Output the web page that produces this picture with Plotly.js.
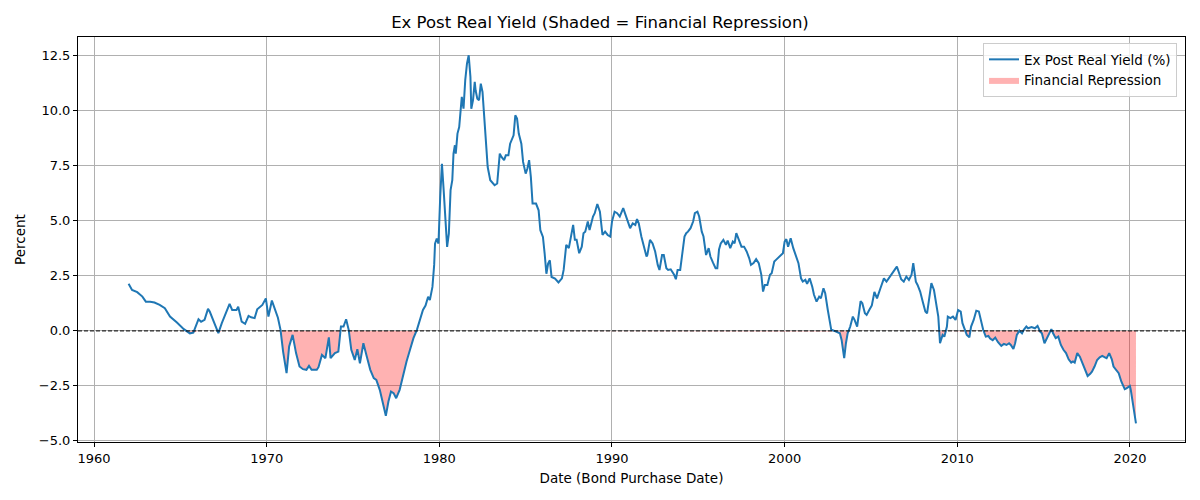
<!DOCTYPE html>
<html>
<head>
<meta charset="utf-8">
<script src="https://cdn.plot.ly/plotly-3.0.1.min.js"></script>
<style>html,body{margin:0;padding:0;background:#fff;}#chart{width:1200px;height:500px;}</style>
</head>
<body>
<div id="chart"></div>
<script>
// Decimal year of bond purchase date
const dates = [
1962.0,1962.2,1962.5,1962.8,1963.0,1963.25,1963.5,1963.8,1964.1,1964.4,1964.8,1965.2,1965.55,1965.75,
1966.05,1966.2,1966.4,1966.6,1966.7,1966.9,1967.1,1967.2,1967.4,1967.6,1967.85,1968.0,1968.25,1968.35,
1968.55,1968.75,1968.95,1969.1,1969.3,1969.45,1969.6,1969.75,1969.95,1970.1,1970.3,1970.5,1970.65,1970.8,
1970.95,1971.15,1971.3,1971.5,1971.7,1971.9,1972.1,1972.3,1972.45,1972.6,1972.9,1973.0,1973.2,1973.4,
1973.6,1973.7,1973.95,1974.15,1974.3,1974.45,1974.6,1974.75,1974.9,1975.1,1975.25,1975.4,1975.6,1975.8,
1976.0,1976.2,1976.35,1976.55,1976.75,1976.9,1977.05,1977.2,1977.35,1977.5,1977.7,1977.9,1978.1,1978.3,
1978.5,1978.7,1978.9,1979.05,1979.2,1979.35,1979.45,1979.6,1979.7,1979.75,1979.85,1979.95,1980.05,1980.15,
1980.25,1980.35,1980.45,1980.55,1980.65,1980.75,1980.82,1980.9,1980.95,1981.05,1981.15,1981.3,1981.4,1981.5,
1981.6,1981.7,1981.8,1981.85,1981.95,1982.05,1982.1,1982.2,1982.3,1982.4,1982.5,1982.6,1982.7,1982.8,
1982.95,1983.1,1983.2,1983.35,1983.5,1983.6,1983.75,1983.85,1984.0,1984.1,1984.3,1984.4,1984.5,1984.6,
1984.75,1984.85,1985.0,1985.1,1985.2,1985.3,1985.4,1985.6,1985.75,1985.85,1986.0,1986.1,1986.2,1986.3,
1986.4,1986.5,1986.7,1986.9,1987.1,1987.2,1987.35,1987.5,1987.6,1987.75,1987.85,1987.95,1988.1,1988.25,
1988.35,1988.45,1988.6,1988.7,1988.9,1989.0,1989.15,1989.3,1989.45,1989.6,1989.75,1989.9,1990.0,1990.15,
1990.3,1990.45,1990.65,1990.8,1990.9,1991.05,1991.2,1991.35,1991.45,1991.55,1991.7,1991.85,1992.0,1992.05,
1992.2,1992.35,1992.5,1992.65,1992.75,1992.9,1993.0,1993.15,1993.25,1993.4,1993.6,1993.7,1993.8,1993.95,
1994.05,1994.2,1994.3,1994.4,1994.55,1994.7,1994.8,1994.95,1995.05,1995.2,1995.3,1995.45,1995.6,1995.7,
1995.85,1996.0,1996.1,1996.2,1996.3,1996.45,1996.6,1996.7,1996.85,1997.0,1997.1,1997.2,1997.35,1997.5,
1997.65,1997.8,1997.95,1998.05,1998.2,1998.35,1998.5,1998.65,1998.75,1998.85,1999.0,1999.15,1999.25,1999.4,
1999.5,1999.65,1999.8,1999.9,2000.0,2000.1,2000.2,2000.35,2000.5,2000.65,2000.8,2000.95,2001.05,2001.2,
2001.3,2001.45,2001.6,2001.7,2001.85,2002.0,2002.1,2002.25,2002.35,2002.5,2002.7,2002.85,2003.0,2003.2,
2003.3,2003.45,2003.55,2003.65,2003.8,2003.95,2004.05,2004.2,2004.4,2004.5,2004.65,2004.75,2004.9,2005.05,
2005.2,2005.35,2005.55,2005.75,2005.9,2006.1,2006.3,2006.5,2006.6,2006.75,2006.9,2007.05,2007.2,2007.35,
2007.45,2007.6,2007.7,2007.85,2008.0,2008.15,2008.25,2008.4,2008.5,2008.65,2008.75,2008.9,2009.0,2009.15,
2009.25,2009.4,2009.45,2009.6,2009.75,2009.9,2010.05,2010.2,2010.3,2010.45,2010.55,2010.7,2010.8,2010.95,
2011.1,2011.25,2011.4,2011.5,2011.65,2011.8,2011.9,2012.05,2012.2,2012.35,2012.55,2012.7,2012.85,2013.0,
2013.1,2013.25,2013.35,2013.45,2013.6,2013.75,2013.85,2014.0,2014.1,2014.3,2014.5,2014.65,2014.8,2014.9,
2015.05,2015.2,2015.3,2015.45,2015.55,2015.7,2015.85,2016.0,2016.15,2016.3,2016.45,2016.6,2016.7,2016.8,
2016.95,2017.1,2017.25,2017.4,2017.55,2017.7,2017.8,2017.95,2018.1,2018.25,2018.4,2018.55,2018.65,2018.8,
2018.95,2019.05,2019.2,2019.35,2019.5,2019.6,2019.7,2019.8,2019.9,2020.0,2020.05,2020.15,2020.25,2020.35
];
// Ex post real yield (%)
const realYield = [
2.14,1.86,1.76,1.56,1.33,1.33,1.29,1.18,1.03,0.65,0.38,0.08,-0.11,-0.08,
0.53,0.42,0.5,1.0,0.88,0.47,0.05,-0.1,0.35,0.73,1.23,0.95,0.95,1.1,
0.42,0.32,0.68,0.62,0.58,0.98,1.1,1.18,1.48,0.65,1.38,0.95,0.6,0.05,
-0.94,-1.92,-0.71,-0.18,-1.01,-1.62,-1.74,-1.77,-1.59,-1.77,-1.77,-1.65,-1.09,-1.24,
-0.29,-1.24,-1.01,-0.94,0.2,0.2,0.53,0.05,-0.86,-1.32,-0.83,-1.47,-0.56,-1.17,
-1.77,-2.15,-2.23,-2.68,-3.29,-3.86,-3.21,-2.76,-2.83,-3.06,-2.68,-2.0,-1.39,-0.86,
-0.33,0.05,0.55,0.95,1.15,1.55,1.4,2.0,3.0,3.97,4.2,3.97,6.09,7.6,
6.4,4.88,3.82,4.42,6.4,6.85,8.06,8.44,8.06,8.97,9.27,10.64,10.1,11.4,
12.15,12.53,11.55,10.1,10.49,11.32,10.94,10.56,10.49,11.24,10.86,9.73,8.36,7.45,
6.85,6.7,6.62,6.7,8.06,7.91,7.76,7.98,7.98,8.51,8.89,9.8,9.65,8.97,
8.51,7.68,7.15,7.38,7.76,7.0,5.79,5.79,5.48,4.58,4.27,3.51,2.6,3.06,
3.21,2.45,2.38,2.2,2.39,2.77,3.91,3.76,4.14,4.82,4.14,4.14,3.53,3.83,
4.44,4.51,4.97,4.59,5.2,5.35,5.77,5.42,4.36,4.51,4.36,4.29,4.97,5.42,
5.35,5.2,5.58,5.2,4.97,4.67,4.89,4.82,5.08,4.89,4.29,3.83,3.38,3.45,
4.14,3.98,3.61,3.0,2.77,3.45,3.45,2.85,2.77,2.8,2.55,2.35,2.77,2.77,
3.45,4.29,4.44,4.51,4.67,4.97,5.35,5.42,5.2,4.51,4.29,3.45,3.76,3.38,
3.1,2.85,2.85,3.7,3.98,4.14,3.91,4.11,3.76,4.06,3.98,4.44,4.14,3.83,
3.83,3.61,3.3,3.0,3.08,3.26,3.08,2.55,1.79,2.09,2.09,2.55,2.62,3.15,
3.23,3.35,3.45,3.53,4.06,4.17,3.83,4.21,3.76,3.45,3.08,2.39,2.24,2.32,
2.14,2.39,2.01,1.64,1.33,1.56,1.48,1.94,1.71,0.95,0.05,0.01,-0.03,-0.11,
-0.41,-1.24,-0.56,-0.11,0.2,0.65,0.5,0.2,1.35,1.26,0.8,0.73,0.95,1.16,
1.77,1.48,1.94,2.39,2.24,2.47,2.74,2.92,2.7,2.35,2.24,2.47,2.32,2.55,
3.08,2.24,2.09,1.79,1.33,0.88,0.8,1.56,2.17,1.86,1.41,0.65,-0.56,-0.18,
-0.26,0.2,0.65,0.58,0.65,0.5,0.95,0.88,0.35,-0.03,-0.18,-0.29,0.2,0.5,
0.92,0.88,0.42,0.05,-0.26,-0.23,-0.35,-0.42,-0.3,-0.5,-0.68,-0.59,-0.64,-0.56,
-0.64,-0.82,-0.56,-0.18,0.01,-0.11,0.05,0.2,0.12,0.17,0.12,0.23,-0.03,-0.11,
-0.56,-0.33,-0.14,0.08,-0.11,-0.33,-0.26,-0.64,-0.86,-1.01,-1.29,-1.44,-1.39,-1.44,
-1.01,-1.17,-1.47,-1.77,-2.05,-1.95,-1.85,-1.62,-1.32,-1.2,-1.14,-1.2,-1.24,-1.01,
-1.29,-1.62,-1.77,-1.92,-2.3,-2.45,-2.65,-2.61,-2.56,-2.5,-2.68,-3.14,-3.74,-4.2
];
const xTicks = [1960,1970,1980,1990,2000,2010,2020];
const yTicks = [-5,-2.5,0,2.5,5,7.5,10,12.5];

const repression = realYield.map(v => Math.min(v, 0));
const FONT = 'DejaVu Sans, sans-serif';

const traces = [
  {
    x: dates, y: repression, type: 'scatter', mode: 'lines',
    fill: 'tozeroy', fillcolor: 'rgba(255,0,0,0.3)',
    line: {width: 0, color: 'rgba(255,0,0,0.3)'},
    name: 'Financial Repression', hoverinfo: 'skip'
  },
  {
    x: dates, y: realYield, type: 'scatter', mode: 'lines',
    line: {color: '#1f77b4', width: 2},
    name: 'Ex Post Real Yield (%)'
  }
];

const axisCommon = {
  showline: true, mirror: true, linecolor: '#000', linewidth: 1,
  ticks: 'outside', ticklen: 4, tickcolor: '#000', tickwidth: 1,
  showgrid: true, gridcolor: '#b0b0b0', gridwidth: 1,
  zeroline: false, tickfont: {family: FONT, size: 13, color: '#000'}
};

const layout = {
  width: 1200, height: 500,
  paper_bgcolor: '#fff', plot_bgcolor: '#fff',
  margin: {l: 78, r: 15, t: 37, b: 58},
  font: {family: FONT, color: '#000'},
  title: {text: 'Ex Post Real Yield (Shaded = Financial Repression)', font: {family: FONT, size: 16.5, color: '#000'},
          x: 0.5, xanchor: 'center', y: 0.956, yanchor: 'middle'},
  xaxis: Object.assign({}, axisCommon, {
    range: [1959.07, 2023.19], tickvals: xTicks, ticktext: xTicks.map(String),
    title: {text: 'Date (Bond Purchase Date)', font: {family: FONT, size: 13.5, color: '#000'}, standoff: 8}
  }),
  yaxis: Object.assign({}, axisCommon, {
    range: [-5.05, 13.36], tickvals: yTicks, tickformat: '.1f',
    title: {text: 'Percent', font: {family: FONT, size: 13.5, color: '#000'}, standoff: 10}
  }),
  showlegend: true,
  legend: {
    x: 0.9928, xanchor: 'right', y: 0.985, yanchor: 'top',
    bgcolor: 'rgba(255,255,255,0.8)', bordercolor: '#cccccc', borderwidth: 1,
    font: {family: FONT, size: 13.5, color: '#000'}, traceorder: 'reversed'
  },
  shapes: [{
    type: 'line', xref: 'paper', x0: 0, x1: 1, yref: 'y', y0: 0, y1: 0,
    line: {color: '#000', width: 1, dash: '4px,2px'}
  }]
};

Plotly.newPlot('chart', traces, layout, {displayModeBar: false, staticPlot: true});
</script>
</body>
</html>
